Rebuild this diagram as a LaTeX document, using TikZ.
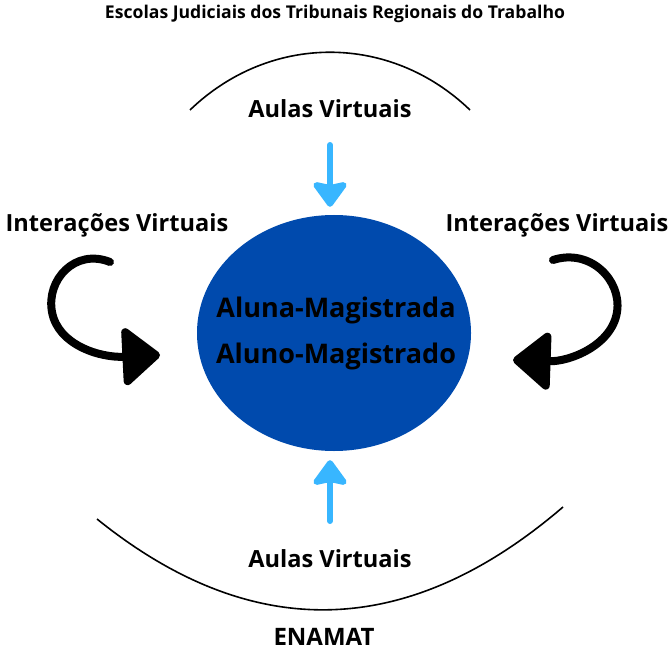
\documentclass[tikz,border=0pt]{standalone}
\usepackage{fontspec}
\setmainfont{Open Sans}
\usetikzlibrary{arrows.meta,shapes.geometric}
\definecolor{enamatblue}{RGB}{0,74,173}
\definecolor{aulablue}{RGB}{56,182,255}
\begin{document}
\begin{tikzpicture}
  [x=1pt,y=-1pt,
   every node/.style={font=\bfseries,inner sep=0pt,anchor=base},
   titulo/.style={font=\bfseries\fontsize{17.6}{20}\selectfont},
   rotulo/.style={font=\bfseries\fontsize{23.6}{28}\selectfont},
   aula/.style={aulablue,line width=6pt,line cap=round,
     -{Stealth[length=28pt,width=40pt,inset=4pt,round]}},
   giro/.style={black,line width=8pt,line cap=round,
     -{Triangle[length=40pt,width=64pt,round]}},
   borda/.style={black,line width=1.6pt}]
  \useasboundingbox (0,0) rectangle (671,652);

  \node[titulo] (escolas) at (335,19) {Escolas Judiciais dos Tribunais Regionais do Trabalho};
  \node[rotulo] (aulacima) at (330,118) {Aulas Virtuais};
  \node[rotulo] (aulabaixo) at (330,567) {Aulas Virtuais};
  \node[rotulo] (interesq) at (117,231) {Interações Virtuais};
  \node[rotulo] (interdir) at (557,231) {Interações Virtuais};
  \node[rotulo,font=\bfseries\fontsize{24}{28}\selectfont] (enamat) at (324,645) {ENAMAT};

  \node[ellipse,fill=enamatblue,minimum width=274pt,minimum height=236pt,
    anchor=center] (aluno) at (334,333) {};
  \node[rotulo,font=\bfseries\fontsize{27}{32}\selectfont] (aluna1) at (336,317) {Aluna-Magistrada};
  \node[rotulo,font=\bfseries\fontsize{27}{32}\selectfont] (aluna2) at (336,363) {Aluno-Magistrado};

  \coordinate (cimaA) at (190,110);
  \coordinate (cimaB) at (470,110);
  \coordinate (baixoA) at (97,519);
  \coordinate (baixoB) at (563,507);
  \draw[borda] (cimaA) .. controls (270,33) and (390,33) .. (cimaB);
  \draw[borda] (baixoA) .. controls (252,644) and (408,640) .. (baixoB);

  \coordinate (setacima) at (330,145);
  \coordinate (setabaixo) at (330,521);
  \draw[aula,shorten >=8pt] (setacima) -- (setacima |- aluno.north);
  \draw[aula,shorten >=9pt] (setabaixo) -- (setabaixo |- aluno.south);

  \coordinate (esqA) at (110,262);
  \coordinate (esqB) at (160,355);
  \coordinate (dirA) at (553,260);
  \coordinate (dirB) at (513,360);
  \draw[giro] (esqA) .. controls (75,248) and (46,280) .. (52,312)
    .. controls (58,345) and (100,358) .. (esqB);
  \draw[giro] (dirA) .. controls (590,248) and (622,280) .. (617,312)
    .. controls (612,345) and (570,362) .. (dirB);
\end{tikzpicture}
\end{document}
